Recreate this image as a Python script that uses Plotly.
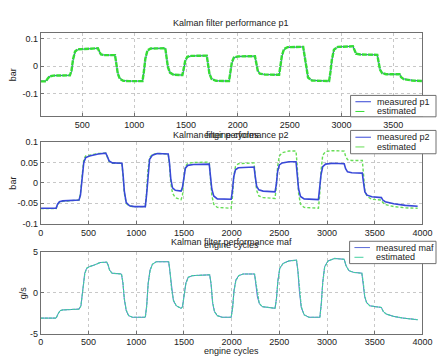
import plotly.graph_objects as go

# ---------------- data ----------------
cycles_p1 = [100, 150, 165, 185, 220, 380, 395, 410, 430, 455, 520, 600, 650, 662, 680, 710,
             815, 828, 842, 862, 895, 950, 1080, 1093, 1108, 1128, 1160, 1300, 1312, 1325,
             1345, 1380, 1465, 1478, 1492, 1512, 1550, 1700, 1712, 1726, 1746, 1790, 1915,
             1928, 1942, 1962, 2000, 2165, 2178, 2192, 2212, 2260, 2398, 2411, 2425, 2445,
             2480, 2630, 2643, 2657, 2677, 2715, 2880, 2893, 2907, 2927, 2965, 3110, 3123,
             3140, 3180, 3345, 3358, 3372, 3392, 3430, 3560, 3575, 3600, 3680, 3780]
p1_measured = [-0.055, -0.055, -0.045, -0.037, -0.035, -0.034, -0.020, 0.020, 0.050, 0.060,
               0.062, 0.065, 0.065, 0.055, 0.043, 0.040, 0.040, 0.010, -0.025, -0.045, -0.053,
               -0.055, -0.055, -0.025, 0.025, 0.055, 0.064, 0.065, 0.040, 0.000, -0.022, -0.031,
               -0.033, -0.015, 0.015, 0.032, 0.037, 0.038, 0.010, -0.025, -0.045, -0.054, -0.055,
               -0.025, 0.010, 0.030, 0.035, 0.036, 0.010, -0.015, -0.027, -0.031, -0.032, -0.005,
               0.035, 0.060, 0.068, 0.070, 0.040, -0.005, -0.040, -0.052, -0.055, -0.025, 0.020,
               0.058, 0.070, 0.072, 0.060, 0.046, 0.042, 0.041, 0.015, -0.012, -0.025, -0.030,
               -0.030, -0.040, -0.047, -0.052, -0.055]
p1_estimated = [-0.056, -0.056, -0.046, -0.038, -0.035, -0.034, -0.018, 0.024, 0.053, 0.061,
                0.062, 0.065, 0.065, 0.054, 0.042, 0.040, 0.040, 0.008, -0.028, -0.047, -0.054,
                -0.055, -0.055, -0.022, 0.028, 0.057, 0.064, 0.065, 0.038, -0.003, -0.024, -0.032,
                -0.033, -0.013, 0.018, 0.034, 0.037, 0.038, 0.008, -0.028, -0.047, -0.054, -0.055,
                -0.022, 0.013, 0.031, 0.035, 0.036, 0.008, -0.017, -0.028, -0.031, -0.032, -0.002,
                0.038, 0.062, 0.069, 0.070, 0.038, -0.008, -0.042, -0.053, -0.055, -0.022, 0.024,
                0.060, 0.070, 0.072, 0.058, 0.045, 0.042, 0.041, 0.013, -0.014, -0.026, -0.030,
                -0.030, -0.041, -0.048, -0.053, -0.055]

cycles_p2 = [0, 160, 175, 195, 230, 400, 415, 430, 450, 470, 510, 600, 680, 695, 715, 750, 850,
             862, 875, 895, 930, 980, 1095, 1108, 1122, 1140, 1170, 1220, 1335, 1348, 1362, 1380,
             1410, 1470, 1485, 1498, 1515, 1540, 1600, 1765, 1778, 1792, 1812, 1850, 1995, 2008,
             2022, 2040, 2070, 2235, 2248, 2262, 2285, 2330, 2455, 2468, 2482, 2500, 2530, 2600,
             2675, 2688, 2702, 2722, 2760, 2910, 2923, 2937, 2955, 2985, 3060, 3180, 3195, 3215,
             3260, 3370, 3383, 3397, 3420, 3470, 3570, 3585, 3610, 3700, 3820, 3950]
p2_measured = [-0.062, -0.062, -0.052, -0.046, -0.044, -0.042, -0.030, 0.010, 0.050, 0.062,
               0.066, 0.071, 0.073, 0.066, 0.054, 0.049, 0.048, 0.020, -0.020, -0.048, -0.056,
               -0.058, -0.058, -0.030, 0.020, 0.058, 0.068, 0.072, 0.071, 0.050, 0.010, -0.012,
               -0.018, -0.020, -0.010, 0.015, 0.036, 0.043, 0.045, 0.046, 0.020, -0.015, -0.032,
               -0.039, -0.040, -0.020, 0.015, 0.032, 0.037, 0.039, 0.015, -0.008, -0.017, -0.020,
               -0.022, -0.005, 0.028, 0.044, 0.049, 0.052, 0.052, 0.025, -0.015, -0.033, -0.039,
               -0.041, -0.015, 0.020, 0.040, 0.046, 0.048, 0.047, 0.035, 0.027, 0.025, 0.024,
               0.000, -0.022, -0.030, -0.034, -0.036, -0.042, -0.046, -0.051, -0.055, -0.057]
p2_estimated = [-0.063, -0.063, -0.053, -0.047, -0.045, -0.042, -0.025, 0.020, 0.058, 0.066,
                0.068, 0.072, 0.073, 0.066, 0.053, 0.048, 0.048, 0.015, -0.025, -0.050, -0.057,
                -0.058, -0.058, -0.025, 0.030, 0.062, 0.070, 0.072, 0.071, 0.045, 0.000, -0.025,
                -0.036, -0.041, -0.030, 0.010, 0.040, 0.048, 0.050, 0.051, 0.015, -0.030, -0.052,
                -0.060, -0.062, -0.035, 0.015, 0.040, 0.047, 0.049, 0.015, -0.018, -0.032, -0.036,
                -0.038, -0.010, 0.040, 0.066, 0.074, 0.078, 0.078, 0.040, -0.025, -0.052, -0.060,
                -0.062, -0.030, 0.030, 0.068, 0.077, 0.079, 0.078, 0.065, 0.057, 0.055, 0.055,
                0.020, -0.020, -0.033, -0.040, -0.042, -0.048, -0.053, -0.058, -0.061, -0.062]

cycles_maf = [0, 160, 180, 200, 230, 400, 420, 440, 460, 480, 510, 560, 620, 690, 705, 720, 745,
              845, 860, 875, 895, 920, 960, 1095, 1110, 1125, 1145, 1170, 1210, 1340, 1355, 1370,
              1390, 1420, 1470, 1485, 1500, 1520, 1545, 1590, 1770, 1785, 1800, 1820, 1850, 1900,
              1995, 2010, 2025, 2045, 2075, 2120, 2240, 2255, 2270, 2290, 2320, 2455, 2470, 2485,
              2505, 2540, 2600, 2680, 2695, 2710, 2730, 2760, 2810, 2925, 2940, 2955, 2975, 3010,
              3080, 3180, 3200, 3230, 3280, 3365, 3380, 3395, 3415, 3450, 3570, 3590, 3620, 3700,
              3800, 3950]
maf_measured = [-3.1, -3.1, -2.6, -2.2, -2.1, -2.0, -1.6, 0.6, 2.4, 3.0, 3.2, 3.4, 3.7, 3.75,
                3.4, 2.8, 2.4, 2.3, 1.2, -0.8, -2.2, -2.8, -3.0, -3.0, -1.5, 1.2, 2.8, 3.5, 3.8,
                3.8, 2.4, 0.3, -1.0, -1.6, -1.9, -1.7, -0.3, 1.2, 1.9, 2.1, 2.2, 1.0, -1.2, -2.3,
                -2.8, -3.0, -3.0, -1.8, 0.3, 1.6, 2.1, 2.3, 2.3, 1.1, -0.5, -1.3, -1.7, -1.9, -0.7,
                1.5, 3.0, 3.6, 3.9, 4.0, 2.6, 0.2, -1.8, -2.7, -3.0, -3.0, -1.3, 1.3, 3.2, 3.9, 4.2,
                4.1, 3.3, 2.7, 2.5, 2.4, 1.2, -0.5, -1.2, -1.6, -1.8, -2.3, -2.6, -2.9, -3.1, -3.3]
maf_estimated = [-3.1, -3.1, -2.6, -2.2, -2.1, -2.0, -1.6, 0.5, 2.3, 3.0, 3.2, 3.4, 3.7, 3.75,
                 3.4, 2.8, 2.4, 2.3, 1.3, -0.7, -2.1, -2.8, -3.0, -3.0, -1.6, 1.1, 2.7, 3.5, 3.8,
                 3.8, 2.5, 0.4, -0.9, -1.6, -1.9, -1.7, -0.4, 1.1, 1.9, 2.1, 2.2, 1.1, -1.1, -2.3,
                 -2.8, -3.0, -3.0, -1.9, 0.2, 1.5, 2.1, 2.3, 2.3, 1.2, -0.4, -1.3, -1.7, -1.9, -0.8,
                 1.4, 3.0, 3.6, 3.9, 4.0, 2.7, 0.3, -1.7, -2.7, -3.0, -3.0, -1.4, 1.2, 3.1, 3.9, 4.2,
                 4.1, 3.3, 2.7, 2.5, 2.4, 1.3, -0.4, -1.2, -1.6, -1.8, -2.3, -2.6, -2.9, -3.1, -3.3]

p1_xticks = [500, 1000, 1500, 2000, 2500, 3000, 3500]
full_xticks = [0, 500, 1000, 1500, 2000, 2500, 3000, 3500, 4000]
p1_yticks = [-0.1, 0, 0.1]
p1_ytext = ["-0.1", "0", "0.1"]
p2_yticks = [-0.1, -0.05, 0, 0.05, 0.1]
p2_ytext = ["-0.1", "-0.05", "0", "0.05", "0.1"]
maf_yticks = [-5, 0, 5]
maf_ytext = ["-5", "0", "5"]

titles = ["Kalman filter performance p1", "Kalman filter performance p2",
          "Kalman filter performance maf"]
legend_labels = [["measured p1", "estimated"], ["measured p2", "estimated"],
                 ["measured maf", "estimated"]]
xlabel = "engine cycles"
ylabels = ["bar", "bar", "g/s"]

# ---------------- figure ----------------
W, H = 446, 360
BLUE = "#3344d4"
GREEN = "#33dd33"
FONT = "Liberation Sans, Arial, sans-serif"

def px(x):
    return x / W

def py(y):
    return 1 - y / H

fig = go.Figure()
fig.add_trace(go.Scatter(x=cycles_p1, y=p1_measured, mode="lines", xaxis="x", yaxis="y",
                         line=dict(color=BLUE, width=1)))
fig.add_trace(go.Scatter(x=cycles_p1, y=p1_estimated, mode="lines", xaxis="x", yaxis="y",
                         line=dict(color=GREEN, width=2.4, dash="5px,1px")))
fig.add_trace(go.Scatter(x=cycles_p2, y=p2_estimated, mode="lines", xaxis="x2", yaxis="y2",
                         line=dict(color="#66dd55", width=1.4, dash="3px,2px")))
fig.add_trace(go.Scatter(x=cycles_p2, y=p2_measured, mode="lines", xaxis="x2", yaxis="y2",
                         line=dict(color="#3848d8", width=1.6)))
fig.add_trace(go.Scatter(x=cycles_maf, y=maf_measured, mode="lines", xaxis="x3", yaxis="y3",
                         line=dict(color="#5a6ad8", width=1)))
fig.add_trace(go.Scatter(x=cycles_maf, y=maf_estimated, mode="lines", xaxis="x3", yaxis="y3",
                         line=dict(color="#44d0a0", width=1.2, dash="3px,1px")))

xdom = [px(39), px(432)]
ax_common = dict(showline=True, mirror=True, linecolor="#707070", linewidth=1,
                 ticks="inside", ticklen=3, tickcolor="#707070",
                 showgrid=True, gridcolor="#c8c8c8", griddash="dot", gridwidth=1,
                 zeroline=False, tickfont=dict(family=FONT, size=9, color="#222"),
                 fixedrange=True)

fig.update_layout(
    width=W, height=H, margin=dict(l=0, r=0, t=0, b=0),
    paper_bgcolor="white", plot_bgcolor="white", showlegend=False,
    font=dict(family=FONT, size=9, color="#222"),
    xaxis=dict(domain=xdom, range=[100, 3780], tickvals=p1_xticks, anchor="y", **ax_common),
    yaxis=dict(domain=[py(114), py(29)], range=[-0.182, 0.12], tickvals=p1_yticks,
               ticktext=p1_ytext, anchor="x", **ax_common),
    xaxis2=dict(domain=xdom, range=[0, 4000], tickvals=full_xticks, anchor="y2", **ax_common),
    yaxis2=dict(domain=[py(225), py(141)], range=[-0.1, 0.1], tickvals=p2_yticks,
                ticktext=p2_ytext, anchor="x2", **ax_common),
    xaxis3=dict(domain=xdom, range=[0, 4000], tickvals=full_xticks, anchor="y3", **ax_common),
    yaxis3=dict(domain=[py(338), py(254)], range=[-5, 5], tickvals=maf_yticks,
                ticktext=maf_ytext, anchor="x3", **ax_common),
)

annots = []
shapes = []
title_y = [18, 134, 244]
xlabel_y = [134, 247, 356]
ylabel_pos = [(10, 71.5), (10, 183), (20, 296)]
legend_boxes = [(358, 93, 446, 115), (358, 129, 446, 153), (357, 243, 446, 266)]
meas_colors = [BLUE, "#3848d8", "#5a6ad8"]
est_colors = [GREEN, "#66dd55", "#44d0a0"]
for i in range(3):
    annots.append(dict(text=titles[i], x=px(235), y=py(title_y[i]), xref="paper", yref="paper",
                       showarrow=False, xanchor="center", yanchor="middle",
                       font=dict(family=FONT, size=9, color="#222")))
    annots.append(dict(text=xlabel, x=px(235), y=py(xlabel_y[i]), xref="paper", yref="paper",
                       showarrow=False, xanchor="center", yanchor="middle",
                       font=dict(family=FONT, size=9, color="#222")))
    annots.append(dict(text=ylabels[i], x=px(ylabel_pos[i][0]), y=py(ylabel_pos[i][1]),
                       xref="paper", yref="paper", showarrow=False, textangle=-90,
                       xanchor="center", yanchor="middle",
                       font=dict(family=FONT, size=9, color="#222")))
    x0, y0, x1, y1 = legend_boxes[i]
    shapes.append(dict(type="rect", xref="paper", yref="paper", x0=px(x0), x1=px(x1),
                       y0=py(y1), y1=py(y0), fillcolor="white",
                       line=dict(color="#707070", width=1), layer="above"))
    rows = [y0 + 6.5, y0 + 16.5] if i != 1 else [y0 + 7, y0 + 17]
    for j, col, dash in [(0, meas_colors[i], "solid"), (1, est_colors[i], "dash")]:
        shapes.append(dict(type="line", xref="paper", yref="paper", x0=px(x0 + 5),
                           x1=px(x0 + 21), y0=py(rows[j]), y1=py(rows[j]),
                           line=dict(color=col, width=1, dash=dash), layer="above"))
        annots.append(dict(text=legend_labels[i][j], x=px(x0 + 25), y=py(rows[j]),
                           xref="paper", yref="paper", showarrow=False, xanchor="left",
                           yanchor="middle", font=dict(family=FONT, size=9, color="#222")))

fig.update_layout(annotations=annots, shapes=shapes)
fig.write_html("out.html")
